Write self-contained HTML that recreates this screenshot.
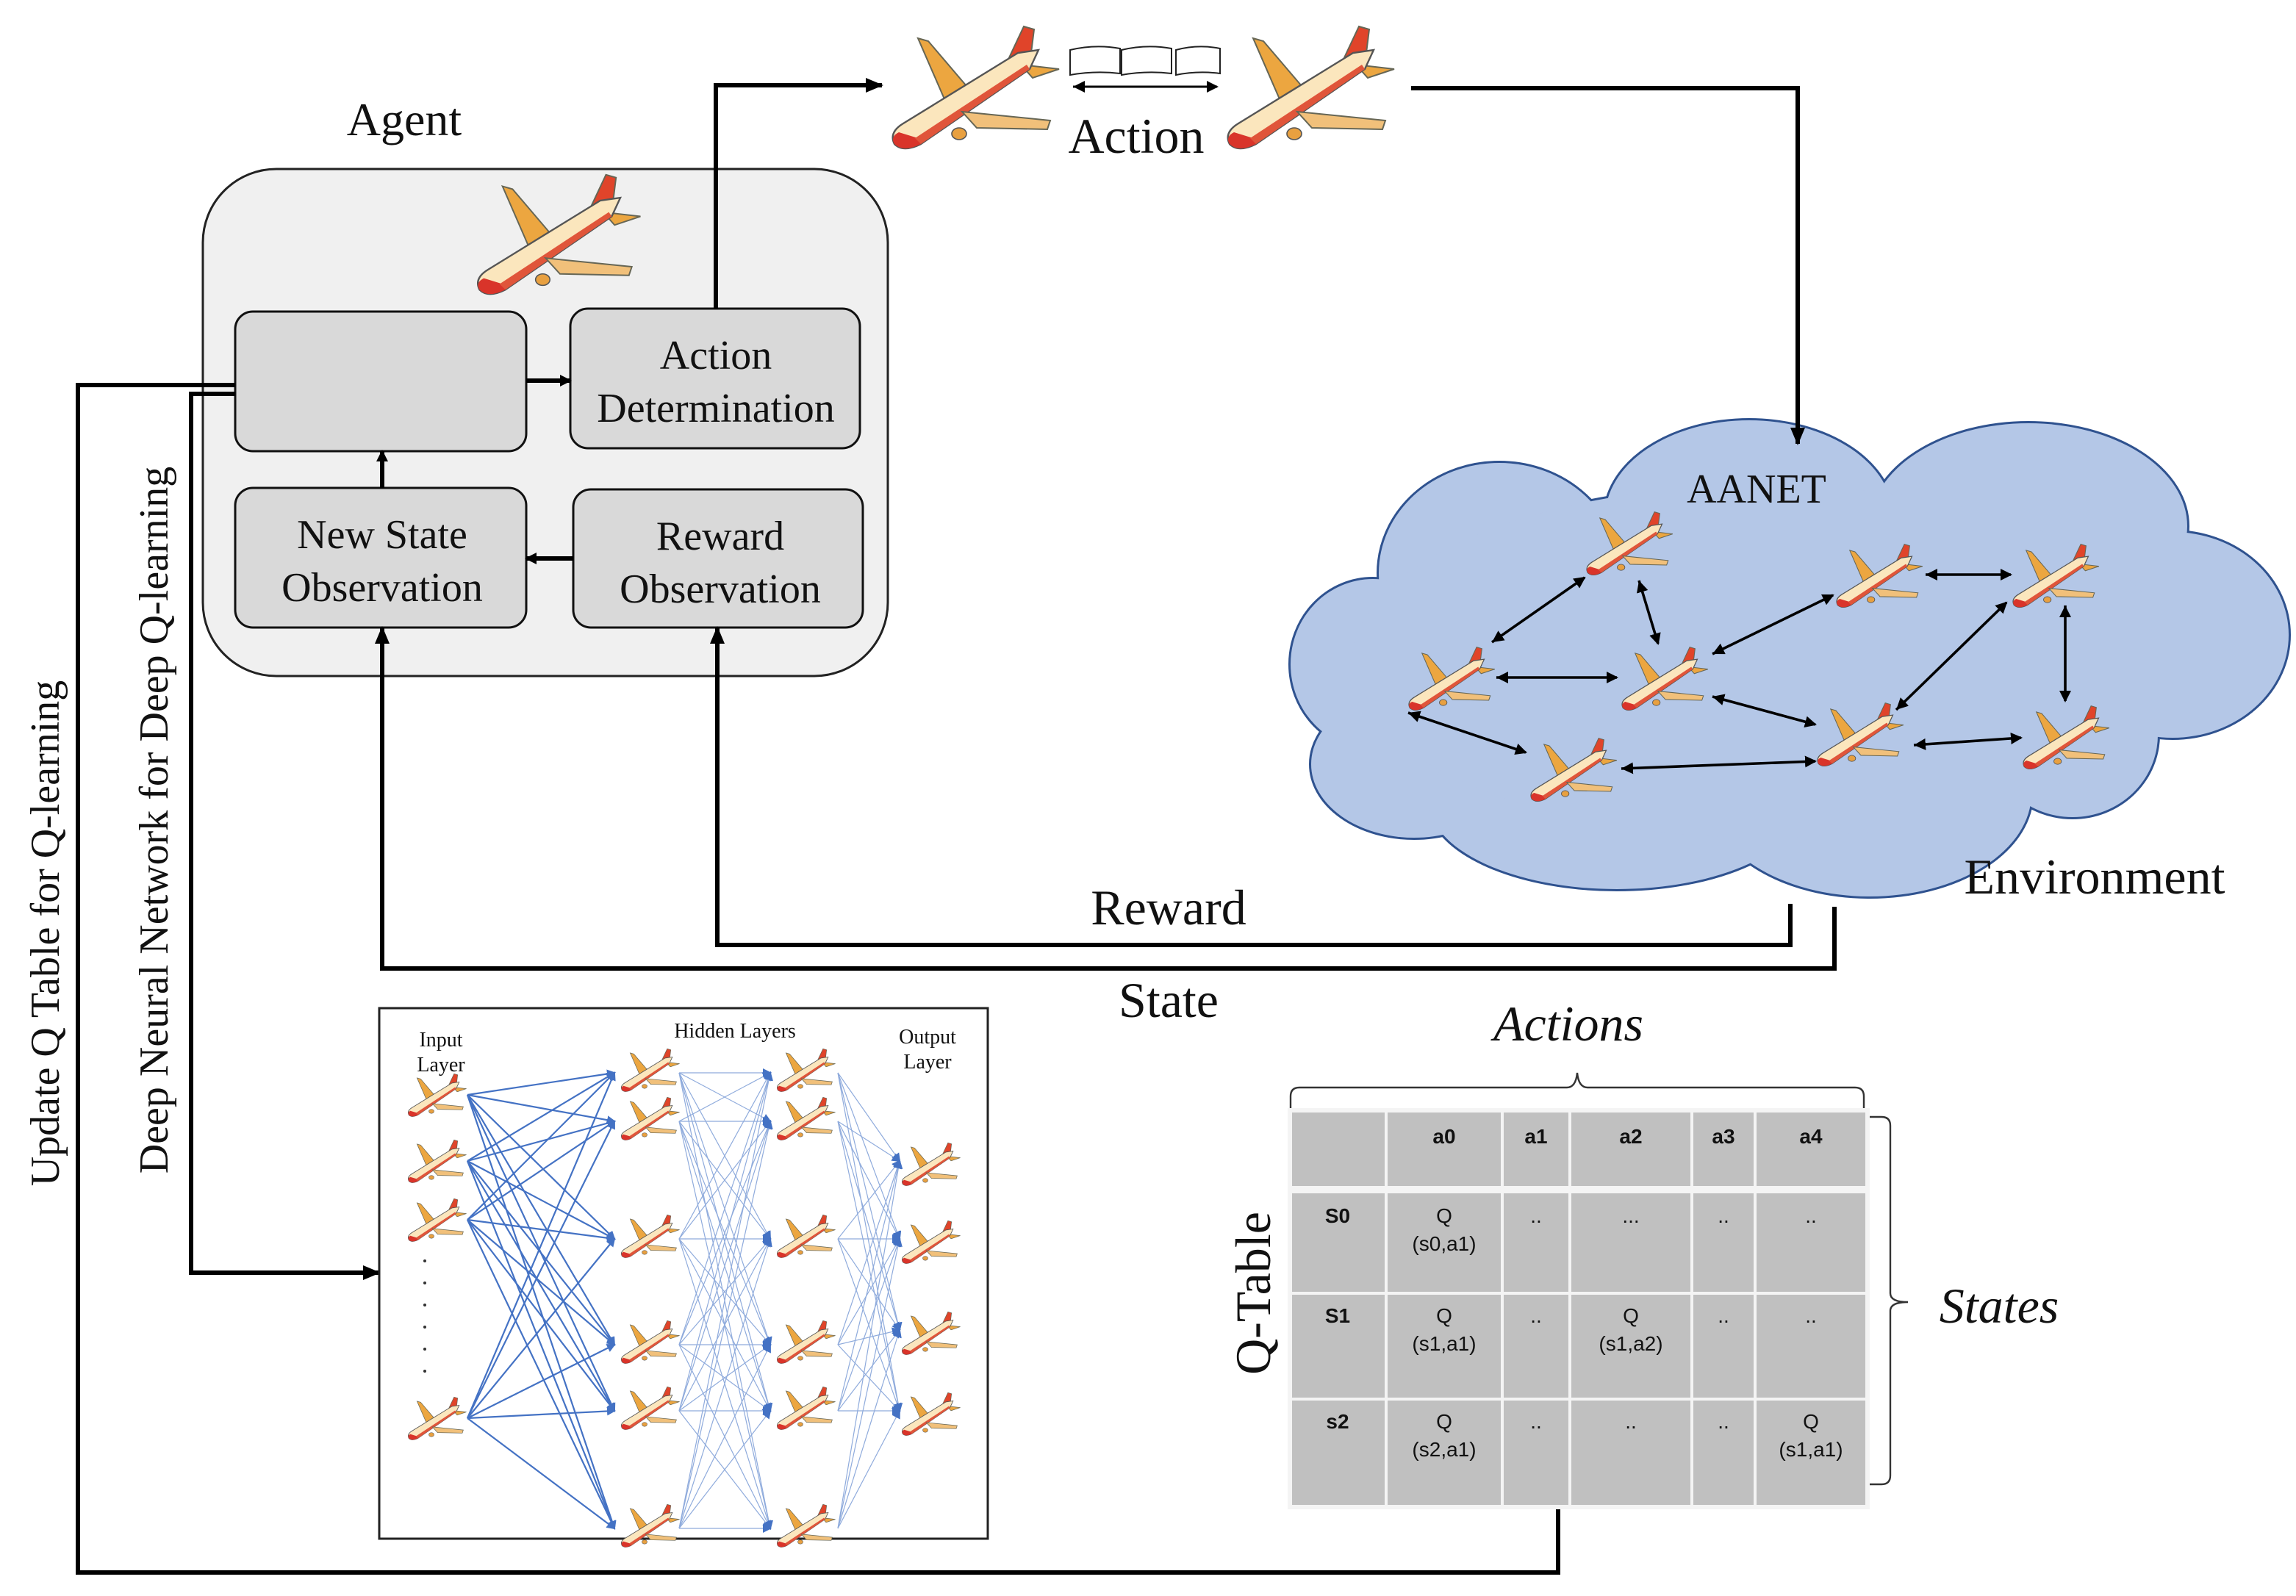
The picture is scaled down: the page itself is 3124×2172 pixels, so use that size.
<!DOCTYPE html>
<html><head><meta charset="utf-8"><style>
html,body{margin:0;padding:0;background:#fff;}
svg{display:block;}
text{font-family:"Liberation Serif",serif;fill:#111;}
.t{font-family:"Liberation Sans",sans-serif;}
</style></head><body>
<svg id="s" width="3124" height="2172" viewBox="0 0 1562 1086" xmlns="http://www.w3.org/2000/svg">
<defs>
<symbol id="pl" viewBox="0 0 120 90">
<path d="M42,58 L22,12 L29,14 L58,48 Z" fill="#eca640" stroke="#665" stroke-width="1"/>
<path d="M78,38 L94,4 L101,6 L98,30 Z" fill="#e0442a" stroke="#665" stroke-width="1"/>
<path d="M92,30 L118,33 L100,39 Z" fill="#eca640" stroke="#665" stroke-width="1"/>
<path d="M6,84 Q2,76 12,70 L90,22 L104,20 L98,33 L24,84 Q12,90 6,84 Z" fill="#fbe6bd" stroke="#555" stroke-width="1.2"/>
<path d="M6,84 Q3,79 9,76 L22,80 L24,84 Q12,90 6,84 Z" fill="#d9342a"/>
<path d="M24,84 L98,33 L96,30 L20,80 Z" fill="#e0553a"/>
<path d="M52,62 L112,68 L110,74 L62,73 Z" fill="#f1c07a" stroke="#665" stroke-width="1"/>
<ellipse cx="50" cy="77" rx="5" ry="4" fill="#e8a040" stroke="#555" stroke-width="0.8"/>
</symbol>
<marker id="ab" markerWidth="8" markerHeight="8" refX="7" refY="4" orient="auto" markerUnits="userSpaceOnUse"><path d="M0,0 L8,4 L0,8 Z" fill="#000"/></marker>
<marker id="as" markerWidth="8" markerHeight="8" refX="0" refY="4" orient="auto" markerUnits="userSpaceOnUse"><path d="M8,0 L0,4 L8,8 Z" fill="#000"/></marker>
<marker id="abig" markerWidth="12" markerHeight="12" refX="11" refY="6" orient="auto" markerUnits="userSpaceOnUse"><path d="M0,1 L12,6 L0,11 Z" fill="#000"/></marker>
<marker id="bl" markerWidth="6" markerHeight="6" refX="5" refY="3" orient="auto" markerUnits="userSpaceOnUse"><path d="M0,0 L6,3 L0,6 Z" fill="#4472c4"/></marker>
</defs>

<!-- Agent -->
<text x="275" y="92" font-size="32" text-anchor="middle">Agent</text>
<rect x="138" y="115" width="466" height="345" rx="50" fill="#f0f0f0" stroke="#222" stroke-width="1.5"/>
<use href="#pl" x="318" y="115" width="122" height="88"/>
<rect x="160" y="212" width="198" height="95" rx="12" fill="#d9d9d9" stroke="#111" stroke-width="1.5"/>
<rect x="388" y="210" width="197" height="95" rx="12" fill="#d9d9d9" stroke="#111" stroke-width="1.5"/>
<rect x="160" y="332" width="198" height="95" rx="12" fill="#d9d9d9" stroke="#111" stroke-width="1.5"/>
<rect x="390" y="333" width="197" height="94" rx="12" fill="#d9d9d9" stroke="#111" stroke-width="1.5"/>
<text x="487" y="251" font-size="28" text-anchor="middle">Action</text>
<text x="487" y="287" font-size="28" text-anchor="middle">Determination</text>
<text x="260" y="373" font-size="28" text-anchor="middle">New State</text>
<text x="260" y="409" font-size="28" text-anchor="middle">Observation</text>
<text x="490" y="374" font-size="28" text-anchor="middle">Reward</text>
<text x="490" y="410" font-size="28" text-anchor="middle">Observation</text>
<g stroke="#000" stroke-width="3" fill="none">
<line x1="358" y1="259" x2="388" y2="259" marker-end="url(#ab)"/>
<line x1="260" y1="332" x2="260" y2="307" marker-end="url(#ab)"/>
<line x1="390" y1="380" x2="358" y2="380" marker-end="url(#ab)"/>
<polyline points="487,210 487,58 600,58" marker-end="url(#abig)"/>
<polyline points="1218,615 1218,643 488,643 488,427" marker-end="url(#abig)"/>
<polyline points="1248,617 1248,659 260,659 260,427" marker-end="url(#abig)"/>
<polyline points="160,268 130,268 130,866 258,866" marker-end="url(#abig)"/>
<polyline points="160,262 53,262 53,1070 1060,1070 1060,1025"/>
</g>

<!-- Action -->
<use href="#pl" x="600" y="14" width="125" height="90"/>
<use href="#pl" x="828" y="14" width="125" height="90"/>
<g fill="#fff" stroke="#222" stroke-width="1">
<path d="M728,34 Q745,30 762,33 L762,50 Q745,48 728,51 Z"/>
<path d="M763,34 Q780,30 797,33 L797,50 Q780,48 763,51 Z"/>
<path d="M800,34 Q815,30 830,33 L830,50 Q815,48 800,51 Z"/>
</g>
<line x1="730" y1="59" x2="828" y2="59" stroke="#000" stroke-width="1.5" marker-end="url(#ab)" marker-start="url(#as)"/>
<text x="773" y="104" font-size="34" text-anchor="middle">Action</text>

<!-- Cloud -->
<g id="cl" fill="#b4c7e7" stroke="#2f528f" stroke-width="3">
<ellipse cx="1020" cy="390" rx="82" ry="75"/>
<ellipse cx="1190" cy="352" rx="98" ry="66"/>
<ellipse cx="1380" cy="358" rx="108" ry="70"/>
<ellipse cx="1478" cy="432" rx="79" ry="70"/>
<ellipse cx="934" cy="452" rx="56" ry="58"/>
<ellipse cx="962" cy="520" rx="70" ry="50"/>
<ellipse cx="1100" cy="545" rx="128" ry="60"/>
<ellipse cx="1272" cy="540" rx="110" ry="70"/>
<ellipse cx="1410" cy="500" rx="58" ry="56"/>
<ellipse cx="1200" cy="450" rx="280" ry="120"/>
</g>
<g fill="#b4c7e7" stroke="none">
<ellipse cx="1020" cy="390" rx="82" ry="75"/>
<ellipse cx="1190" cy="352" rx="98" ry="66"/>
<ellipse cx="1380" cy="358" rx="108" ry="70"/>
<ellipse cx="1478" cy="432" rx="79" ry="70"/>
<ellipse cx="934" cy="452" rx="56" ry="58"/>
<ellipse cx="962" cy="520" rx="70" ry="50"/>
<ellipse cx="1100" cy="545" rx="128" ry="60"/>
<ellipse cx="1272" cy="540" rx="110" ry="70"/>
<ellipse cx="1410" cy="500" rx="58" ry="56"/>
<ellipse cx="1200" cy="450" rx="280" ry="120"/>
</g>
<polyline points="960,60 1223,60 1223,302" fill="none" stroke="#000" stroke-width="3" marker-end="url(#abig)"/>
<text x="1195" y="342" font-size="28" text-anchor="middle">AANET</text>
<g stroke="#000" stroke-width="1.8">
<line x1="1015" y1="437" x2="1078" y2="393" marker-start="url(#as)" marker-end="url(#ab)"/>
<line x1="1018" y1="461" x2="1100" y2="461" marker-start="url(#as)" marker-end="url(#ab)"/>
<line x1="1115" y1="395" x2="1128" y2="438" marker-start="url(#as)" marker-end="url(#ab)"/>
<line x1="1165" y1="445" x2="1247" y2="405" marker-start="url(#as)" marker-end="url(#ab)"/>
<line x1="1310" y1="391" x2="1368" y2="391" marker-start="url(#as)" marker-end="url(#ab)"/>
<line x1="1290" y1="483" x2="1365" y2="410" marker-start="url(#as)" marker-end="url(#ab)"/>
<line x1="1405" y1="412" x2="1405" y2="477" marker-start="url(#as)" marker-end="url(#ab)"/>
<line x1="958" y1="485" x2="1038" y2="512" marker-start="url(#as)" marker-end="url(#ab)"/>
<line x1="1165" y1="474" x2="1235" y2="493" marker-start="url(#as)" marker-end="url(#ab)"/>
<line x1="1103" y1="523" x2="1235" y2="518" marker-start="url(#as)" marker-end="url(#ab)"/>
<line x1="1302" y1="507" x2="1375" y2="502" marker-start="url(#as)" marker-end="url(#ab)"/>
</g>
<use href="#pl" x="956" y="438" width="62" height="47"/>
<use href="#pl" x="1077" y="346" width="62" height="47"/>
<use href="#pl" x="1101" y="438" width="62" height="47"/>
<use href="#pl" x="1039" y="500" width="62" height="47"/>
<use href="#pl" x="1247" y="368" width="62" height="47"/>
<use href="#pl" x="1367" y="368" width="62" height="47"/>
<use href="#pl" x="1234" y="476" width="62" height="47"/>
<use href="#pl" x="1374" y="478" width="62" height="47"/>
<text x="1425" y="608" font-size="34" text-anchor="middle">Environment</text>
<text x="795" y="629" font-size="34" text-anchor="middle">Reward</text>
<text x="795" y="692" font-size="34" text-anchor="middle">State</text>

<text transform="translate(40,635) rotate(-90)" font-size="28" text-anchor="middle">Update Q Table for Q-learning</text>
<text transform="translate(114,558) rotate(-90)" font-size="28" text-anchor="middle">Deep Neural Network for Deep Q-learning</text>

<!-- NN -->
<rect x="258" y="686" width="414" height="361" fill="#fff" stroke="#222" stroke-width="1.5"/>
<text x="300" y="712" font-size="14" text-anchor="middle">Input</text>
<text x="300" y="729" font-size="14" text-anchor="middle">Layer</text>
<text x="500" y="706" font-size="14" text-anchor="middle">Hidden Layers</text>
<text x="631" y="710" font-size="14" text-anchor="middle">Output</text>
<text x="631" y="727" font-size="14" text-anchor="middle">Layer</text>
<g id="nn"></g>
<g fill="#333"><circle cx="289" cy="858" r="1"/><circle cx="289" cy="873" r="1"/><circle cx="289" cy="888" r="1"/><circle cx="289" cy="903" r="1"/><circle cx="289" cy="918" r="1"/><circle cx="289" cy="933" r="1"/></g>

<!-- Q table -->
<text x="1067" y="708" font-size="34" font-style="italic" text-anchor="middle">Actions</text>
<path d="M878,755 L878,746 Q878,740 884,740 L1066,740 Q1072,740 1073,730 Q1074,740 1080,740 L1262,740 Q1268,740 1268,746 L1268,755" fill="none" stroke="#333" stroke-width="1.2"/>
<path d="M1270,760 L1280,760 Q1286,760 1286,766 L1286,880 Q1286,886 1298,886 Q1286,886 1286,892 L1286,1004 Q1286,1010 1280,1010 L1270,1010" fill="none" stroke="#333" stroke-width="1.2"/>
<text x="1360" y="900" font-size="34" font-style="italic" text-anchor="middle">States</text>
<text transform="translate(864,880) rotate(-90)" font-size="34" text-anchor="middle">Q-Table</text>
<g id="qt"></g>
</svg>
<script>
var NS="http://www.w3.org/2000/svg";
function el(p,t,a){var e=document.createElementNS(NS,t);for(var k in a)e.setAttribute(k,a[k]);p.appendChild(e);return e;}
var nn=document.getElementById('nn');
var inY=[745,790,830,965],h=[730,763,843,915,960,1040],outY=[790,843,905,960];
inY.forEach(function(a){h.forEach(function(b){el(nn,'line',{x1:318,y1:a,x2:418,y2:b,stroke:'#4472c4','stroke-width':1.1,'marker-end':'url(#bl)'});});});
h.forEach(function(a){h.forEach(function(b){el(nn,'line',{x1:462,y1:a,x2:524,y2:b,stroke:'#8fabdc','stroke-width':0.6,'marker-end':'url(#bl)'});});});
h.forEach(function(a){outY.forEach(function(b){el(nn,'line',{x1:570,y1:a,x2:612,y2:b,stroke:'#8fabdc','stroke-width':0.6,'marker-end':'url(#bl)'});});});
function pl(x,y){el(nn,'use',{href:'#pl',x:x,y:y,width:42,height:32});}
inY.forEach(function(y){pl(276,y-16);});
h.forEach(function(y){pl(421,y-18);pl(527,y-18);});
outY.forEach(function(y){pl(612,y-14);});
var qt=document.getElementById('qt');
var cx=[878,943,1022,1068,1151,1194,1270],ry=[756,808,880,952,1025];
var data=[["","a0","a1","a2","a3","a4"],["S0","Q|(s0,a1)","..","...","..",".."],["S1","Q|(s1,a1)","..","Q|(s1,a2)","..",".."],["s2","Q|(s2,a1)","..","..","..","Q|(s1,a1)"]];
el(qt,'rect',{x:876,y:754,width:396,height:273,fill:'#f4f4f4'});
for(var r=0;r<4;r++)for(var c=0;c<6;c++){
 var x0=cx[c]+1,y0=ry[r]+(r==1?4:1),w=cx[c+1]-cx[c]-2,hh=ry[r+1]-y0-1;
 el(qt,'rect',{x:x0,y:y0,width:w,height:hh,fill:'#c0c0c0'});
 var s=data[r][c];if(!s)continue;
 var mx=(c==0)?910:(cx[c]+cx[c+1])/2;
 var bold=(r==0||c==0);
 var parts=s.split('|');
 parts.forEach(function(p,i){var t=el(qt,'text',{x:mx,y:(r==0?778:ry[r]+(r==1?24:20))+i*19,'font-size':14,'text-anchor':'middle','class':'t','font-weight':bold?'bold':'normal'});t.textContent=p;});
}
</script>
</body></html>
